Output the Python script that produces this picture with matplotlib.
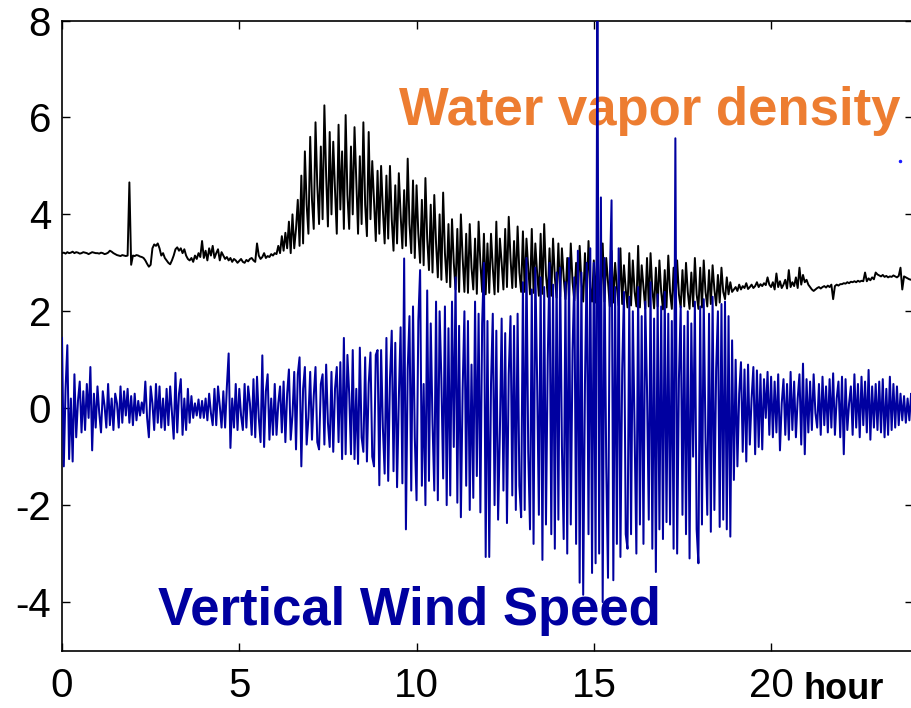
import numpy as np
import matplotlib.pyplot as plt

plt.rcParams['font.family'] = ['Liberation Sans', 'DejaVu Sans']
plt.rcParams['axes.unicode_minus'] = False

# samples every 3 minutes (0.05 h), one row per hour
step_h = 0.05

vapor = [
    3.20, 3.21, 3.19, 3.22, 3.20, 3.21, 3.23, 3.20, 3.22, 3.21, 3.19, 3.20, 3.22, 3.21, 3.20, 3.18, 3.20, 3.22, 3.21, 3.20,
    3.20, 3.19, 3.21, 3.20, 3.18, 3.19, 3.21, 3.25, 3.23, 3.20, 3.18, 3.16, 3.15, 3.14, 3.16, 3.15, 3.14, 3.15, 4.66, 2.96,
    3.15, 3.14, 3.16, 3.15, 3.13, 3.12, 3.10, 3.05, 2.98, 2.92, 2.96, 3.30, 3.38, 3.35, 3.40, 3.30, 3.15, 3.20, 3.10, 3.05,
    3.00, 2.97, 3.05, 3.15, 3.28, 3.32, 3.25, 3.30, 3.20, 3.28, 3.15, 3.08, 3.05, 3.10, 3.02, 3.15, 3.08, 3.20, 3.12, 3.45,
    3.10, 3.25, 3.05, 3.30, 3.15, 3.35, 3.10, 3.20, 3.28, 3.05, 3.22, 3.15, 3.08, 3.12, 3.05, 3.10, 3.02, 3.08, 3.05, 3.00,
    3.04, 3.08, 3.02, 3.00, 3.06, 3.03, 3.08, 3.10, 3.05, 3.02, 3.40, 3.15, 3.08, 3.12, 3.20, 3.10, 3.14, 3.12, 3.18, 3.15,
    3.20, 3.18, 3.35, 3.20, 3.55, 3.25, 3.62, 3.30, 3.85, 3.20, 4.00, 3.30, 3.70, 4.30, 3.35, 4.80, 3.40, 5.30, 4.20, 3.60,
    5.60, 4.30, 3.70, 5.90, 4.60, 3.80, 5.40, 3.90, 6.25, 4.80, 3.75, 5.70, 4.00, 5.50, 4.50, 3.60, 5.85, 4.10, 5.30, 3.70,
    6.05, 4.40, 3.70, 5.40, 4.00, 5.80, 4.70, 3.60, 5.20, 3.80, 5.90, 4.20, 3.55, 5.70, 3.90, 5.10, 4.30, 3.45, 4.90, 3.60,
    5.00, 4.10, 3.40, 4.80, 3.50, 5.00, 3.90, 3.25, 4.60, 3.40, 4.85, 4.00, 3.30, 4.50, 3.35, 5.15, 3.80, 3.20, 4.70, 3.10,
    4.60, 3.60, 3.00, 4.30, 2.95, 4.75, 3.50, 2.85, 4.20, 2.80, 4.40, 3.40, 2.70, 4.00, 2.65, 4.45, 3.20, 2.60, 3.80, 2.50,
    3.90, 3.00, 2.45, 3.70, 2.40, 4.00, 3.10, 2.40, 3.60, 2.38, 3.80, 2.90, 2.45, 3.50, 2.36, 3.85, 3.00, 2.40, 3.60, 2.35,
    3.40, 2.38, 3.60, 2.90, 2.35, 3.85, 2.40, 3.50, 3.00, 2.45, 3.70, 2.50, 3.95, 3.10, 2.48, 3.45, 2.50, 3.75, 2.80, 2.40,
    3.65, 2.40, 3.50, 2.90, 2.35, 3.70, 2.38, 3.40, 2.80, 2.32, 3.60, 2.36, 3.80, 2.75, 2.30, 3.30, 2.32, 3.50, 2.70, 2.28,
    3.40, 2.30, 3.30, 2.70, 2.25, 3.10, 2.28, 3.40, 2.60, 2.22, 3.00, 2.25, 3.35, 2.60, 2.20, 3.20, 2.24, 3.45, 2.50, 2.20,
    3.05, 2.18, 3.30, 2.50, 2.15, 3.40, 2.20, 3.10, 2.60, 2.10, 3.25, 2.18, 3.00, 2.50, 2.12, 3.30, 2.15, 2.95, 2.45, 2.08,
    3.20, 2.12, 3.05, 2.40, 2.10, 3.35, 2.08, 2.95, 2.50, 2.05, 3.10, 2.10, 3.20, 2.45, 2.06, 2.90, 2.10, 3.05, 2.40, 2.04,
    2.85, 2.08, 3.15, 2.40, 2.05, 2.90, 2.06, 3.05, 2.35, 2.08, 2.85, 2.10, 3.00, 2.40, 2.05, 2.80, 2.10, 3.10, 2.35, 2.05,
    2.90, 2.08, 3.05, 2.40, 2.10, 2.85, 2.15, 2.95, 2.45, 2.12, 2.75, 2.18, 2.90, 2.40, 2.25, 2.70, 2.35, 2.60, 2.40, 2.45,
    2.50, 2.42, 2.55, 2.45, 2.52, 2.48, 2.58, 2.46, 2.50, 2.55, 2.48, 2.52, 2.60, 2.50, 2.56, 2.52, 2.58, 2.54, 2.70, 2.55,
    2.50, 2.60, 2.45, 2.78, 2.50, 2.62, 2.48, 2.55, 2.65, 2.47, 2.85, 2.50, 2.60, 2.52, 2.70, 2.48, 2.90, 2.55, 2.75, 2.60,
    2.65, 2.55, 2.50, 2.45, 2.42, 2.45, 2.48, 2.50, 2.47, 2.50, 2.52, 2.49, 2.53, 2.50, 2.55, 2.25, 2.52, 2.55, 2.53, 2.56,
    2.56, 2.58, 2.57, 2.60, 2.58, 2.61, 2.60, 2.62, 2.60, 2.63, 2.61, 2.63, 2.62, 2.80, 2.62, 2.68, 2.64, 2.70, 2.66, 2.80,
    2.76, 2.74, 2.72, 2.75, 2.71, 2.73, 2.70, 2.72, 2.71, 2.74, 2.72, 2.70, 2.73, 2.90, 2.45, 2.72, 2.70, 2.68, 2.66, 2.65,
    2.64,
]

wind = [
    1.45, -1.20, 0.40, 1.30, -1.05, 0.20, -1.10, 0.70, -0.60, 0.15, 0.55, -0.50, 0.35, -0.45, 0.50, -0.20, 0.85, -0.87, 0.30, -0.40,
    0.45, -0.10, -0.50, 0.35, 0.05, -0.40, 0.50, -0.35, 0.20, -0.45, 0.30, 0.10, -0.40, 0.45, -0.30, 0.35, -0.15, 0.40, -0.30, 0.25,
    -0.35, 0.30, -0.25, 0.15, -0.15, 0.12, -0.10, 0.55, -0.20, -0.60, 0.45, 0.10, -0.45, 0.50, -0.30, 0.45, -0.40, 0.20, -0.45, 0.40,
    -0.35, 0.45, -0.10, -0.63, 0.73, -0.50, 0.30, 0.60, -0.55, 0.20, -0.45, 0.40, -0.30, 0.25, -0.20, 0.10, -0.15, 0.18, -0.20, 0.15,
    -0.20, 0.20, -0.25, 0.30, -0.10, -0.35, 0.40, -0.35, 0.45, 0.05, -0.40, 0.35, -0.40, 0.45, 1.13, -0.82, 0.20, -0.40, 0.50, -0.45,
    0.40, -0.15, -0.45, 0.50, -0.40, 0.45, 0.10, -0.55, 0.60, -0.60, 0.65, -0.20, -0.70, 1.09, -0.80, 0.35, 0.70, -0.65, 0.20, -0.55,
    0.50, -0.55, 0.10, 0.45, -0.50, 0.55, -0.70, 0.30, 0.80, -0.65, -0.15, 0.75, -0.85, 0.70, 1.05, -1.20, 0.40, 0.85, -0.75, -0.20,
    0.75, -0.65, 0.25, 0.85, -0.70, -0.85, 0.50, 0.70, -0.75, 0.90, -0.30, -0.80, 0.75, -0.90, 0.40, 0.85, -0.70, 0.95, -1.05, 1.45,
    -0.95, 1.10, 0.30, -0.95, 1.20, -1.05, 0.40, -1.15, 1.25, -0.60, -0.90, 1.05, -1.10, 0.50, 1.15, -1.00, -1.20, 1.10, 1.20, -1.59,
    1.20, -0.40, -1.35, 1.45, -1.50, 0.60, 1.60, -1.30, 1.35, -1.63, 0.20, 1.67, -1.55, 3.09, -2.50, 0.80, 1.90, -1.70, 2.10, -0.60,
    -1.90, 1.80, 2.85, -1.60, 0.50, -2.00, 2.43, -1.50, 1.75, -0.30, -1.70, 2.20, -1.90, 2.00, 0.60, -1.45, 2.10, -2.00, 1.65, -1.80,
    2.20, -0.80, 2.70, -1.95, 1.70, -2.25, 0.40, 2.00, -1.60, 1.80, -2.10, 0.90, -1.85, 2.20, -1.40, 1.95, -2.15, 1.75, 3.00, -3.07,
    1.80, -3.07, 0.50, 1.95, -2.00, 1.60, -2.30, -0.50, 1.85, -1.70, 1.55, -2.37, 0.70, 1.90, -1.80, 1.70, -2.10, 1.95, -1.60, -2.25,
    2.60, -2.10, 3.10, -0.90, -2.50, 2.45, -2.80, 2.90, 0.60, -2.20, 2.70, -3.13, 2.50, -2.40, 1.00, 3.00, -2.60, 2.55, -2.90, 2.80,
    -2.30, 2.90, -0.80, -2.70, 2.60, -3.00, 3.10, -2.40, 1.20, 2.70, -2.80, 3.25, -3.60, 2.80, -3.85, 0.50, 3.00, -2.60, 3.30, -3.40,
    3.00, -3.20, 8.60, -3.00, 4.35, -4.00, 3.10, -1.20, -3.50, 2.60, 4.29, -3.55, 2.50, -2.80, 3.30, -3.07, 0.80, 2.40, -2.60, -2.90,
    2.30, -2.60, 2.00, -0.50, -3.00, 2.50, -2.40, 1.90, -2.80, 2.20, 0.40, -2.30, 2.60, -2.90, 1.85, -3.38, 2.35, -2.50, 2.10, -2.70,
    2.40, -2.35, 1.95, -2.40, 1.80, -2.90, 5.57, -3.00, 0.60, 2.10, -2.20, 1.70, -2.60, 2.00, -3.10, 1.75, -1.00, 2.20, -2.50, -3.20,
    2.10, -2.40, 2.25, -0.60, -2.20, 1.95, -2.55, 2.30, -2.10, 0.80, 2.00, -2.45, 2.15, -2.30, 2.20, -2.50, 1.90, -2.65, 1.40, -1.48,
    1.00, -1.20, 0.30, 0.95, -0.90, 0.80, -1.10, 0.90, -0.75, 0.20, 0.85, -0.95, 0.78, -0.80, 0.70, -0.85, 0.60, -0.20, 0.75, -0.55,
    0.65, -0.60, 0.55, -0.50, 0.70, -0.87, 0.10, 0.60, -0.55, 0.50, -0.65, 0.75, -0.45, 0.55, -0.60, 0.20, 0.70, -0.75, 0.92, -0.95,
    0.60, -0.50, 0.55, -0.45, 0.70, -0.10, -0.40, 0.50, -0.55, 0.65, -0.35, 0.45, -0.50, 0.60, -0.40, 0.72, -0.55, 0.20, 0.55, -0.60,
    0.65, -0.95, 0.60, -0.45, 0.10, 0.45, -0.55, 0.70, -0.40, 0.50, -0.60, 0.65, -0.35, 0.55, -0.50, 0.79, -0.65, 0.45, -0.40, 0.50,
    -0.45, 0.55, -0.50, 0.60, -0.60, 0.40, -0.55, 0.65, -0.45, 0.50, -0.40, 0.45, -0.35, 0.30, -0.25, 0.25, -0.30, 0.20, -0.25, 0.30,
    -0.20,
]

# stray wind sample left over near the end of the record
stray_h = [23.64]
stray_w = [5.11]

x_ticks = [0, 5, 10, 15, 20]
y_ticks = [-4, -2, 0, 2, 4, 6, 8]

t_vapor = np.arange(len(vapor)) * step_h
t_wind = np.arange(len(wind)) * step_h

fig = plt.figure(figsize=(9.12, 7.08), dpi=100)
ax = fig.add_axes([0.068, 0.0812, 0.933, 0.8898])

ax.plot(t_vapor, vapor, color='black', lw=1.4, zorder=3)
ax.plot(t_wind, wind, color='#0000a0', lw=1.45, zorder=4)
ax.plot(stray_h, stray_w, '.', color='#1a1aff', ms=3, zorder=4)

ax.text(23.64, 5.84, 'Water vapor density', color='#ed7d31', fontsize=38,
        fontweight='bold', ha='right', va='baseline', zorder=2)
ax.text(2.71, -4.47, 'Vertical Wind Speed', color='#0000a0', fontsize=38,
        fontweight='bold', ha='left', va='baseline', zorder=2)
ax.text(20.9, -6.0, 'hour', color='black', fontsize=26, fontweight='bold',
        ha='left', va='baseline', clip_on=False)

ax.set_xlim(0, 24)
ax.set_ylim(-5, 8)
ax.set_xticks(x_ticks)
ax.set_yticks(y_ticks)
ax.tick_params(direction='in', length=6, width=1, top=True, right=True,
               labelsize=29)
ax.tick_params(axis='x', pad=12)
ax.tick_params(axis='y', pad=8)
for side in ax.spines.values():
    side.set_linewidth(1.2)

fig.savefig('out.png', dpi=100)
